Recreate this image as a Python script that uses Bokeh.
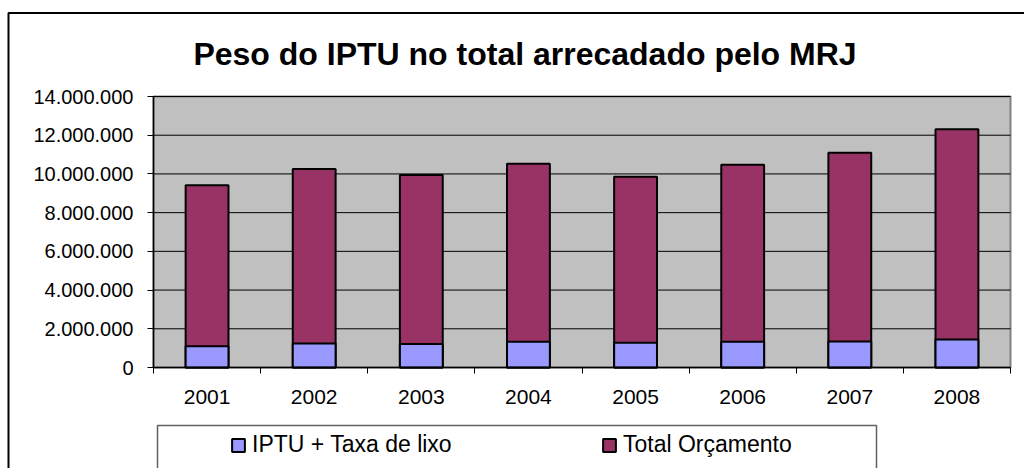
from bokeh.plotting import figure
from bokeh.models import (Range1d, FixedTicker, Legend, LegendItem, BoxAnnotation,
                          Label, LinearAxis, ColumnDataSource)
from bokeh.embed import file_html
from bokeh.resources import INLINE

# ---- data ----
years = ["2001", "2002", "2003", "2004", "2005", "2006", "2007", "2008"]
iptu = [1100000, 1240000, 1210000, 1330000, 1280000, 1330000, 1340000, 1450000]
total = [9420000, 10260000, 9950000, 10520000, 9850000, 10470000, 11100000, 12310000]
y_ticks = [0, 2000000, 4000000, 6000000, 8000000, 10000000, 12000000, 14000000]
y_tick_labels = ["0", "2.000.000", "4.000.000", "6.000.000", "8.000.000",
                 "10.000.000", "12.000.000", "14.000.000"]
series_names = ["IPTU + Taxa de lixo", "Total Orçamento"]
series_colors = ["#9999FF", "#993366"]
title_text = "Peso do IPTU no total arrecadado pelo MRJ"

FONT = "Liberation Sans"
W, H = 1024, 468
n = len(years)
YMAX = y_ticks[-1]

# page-pixel layout of the plot area
PA_L, PA_R, PA_T, PA_B = 153, 1010, 96, 367


def px2x(ax):
    return (ax - PA_L) / (PA_R - PA_L) * n


def px2y(ay):
    return (PA_B - ay) / (PA_B - PA_T) * YMAX


centers = [i + 0.5 for i in range(n)]
src = ColumnDataSource(dict(x=centers, iptu=iptu, total=total))

p = figure(frame_width=W, frame_height=H,
           x_range=Range1d(px2x(0), px2x(W)), y_range=Range1d(px2y(H), px2y(0)),
           output_backend="svg", toolbar_location=None,
           x_axis_location=None, y_axis_location=None,
           min_border=0, background_fill_color="white",
           border_fill_color="white")
p.outline_line_color = None
p.grid.visible = False

# plot area
p.add_layout(BoxAnnotation(left=0, right=n, bottom=0, top=YMAX, level="underlay",
                           fill_color="#C0C0C0", fill_alpha=1,
                           line_color="#808080", line_alpha=1, line_width=2))

# gridlines
p.segment(x0=[0] * len(y_ticks), x1=[n] * len(y_ticks), y0=y_ticks, y1=y_ticks,
          line_color="black", line_width=1)

r_total = p.vbar(x="x", top="total", bottom=0, width=0.4, source=src,
                 fill_color=series_colors[1], line_color="black", line_width=2)
r_iptu = p.vbar(x="x", top="iptu", bottom=0, width=0.4, source=src,
                fill_color=series_colors[0], line_color="black", line_width=2)

# x axis: labels at category centers, ticks at boundaries
xaxis = LinearAxis(fixed_location=0, bounds=(0, n))
xaxis.ticker = FixedTicker(ticks=centers, minor_ticks=list(range(n + 1)))
xaxis.major_label_overrides = {c: y for c, y in zip(centers, years)}
xaxis.major_tick_out = 0
xaxis.major_tick_in = 0
xaxis.minor_tick_out = 6
xaxis.minor_tick_in = 0
xaxis.minor_tick_line_color = "black"
xaxis.axis_line_color = "black"
xaxis.axis_line_width = 1.5
xaxis.major_label_text_font = FONT
xaxis.major_label_text_font_size = "21px"
xaxis.major_label_text_color = "black"
xaxis.major_label_standoff = 16
p.add_layout(xaxis, "below")

# y axis
yaxis = LinearAxis(fixed_location=0, bounds=(0, YMAX))
yaxis.ticker = FixedTicker(ticks=y_ticks, minor_ticks=[])
yaxis.major_label_overrides = {t: l for t, l in zip(y_ticks, y_tick_labels)}
yaxis.major_tick_out = 6
yaxis.major_tick_in = 0
yaxis.major_tick_line_color = "black"
yaxis.axis_line_color = "black"
yaxis.axis_line_width = 1.5
yaxis.major_label_text_font = FONT
yaxis.major_label_text_font_size = "20px"
yaxis.major_label_text_color = "black"
yaxis.major_label_standoff = 14
p.add_layout(yaxis, "left")

legend = Legend(items=[LegendItem(label=series_names[0], renderers=[r_iptu]),
                       LegendItem(label=series_names[1], renderers=[r_total])],
                orientation="horizontal", location=(225, 5), padding=5,
                spacing=144, glyph_width=16, glyph_height=16, label_standoff=6,
                label_width=205, margin=0,
                label_text_font=FONT, label_text_font_size="23px",
                label_text_color="black",
                border_line_alpha=0, background_fill_alpha=0)
p.add_layout(legend)

# legend frame
p.add_layout(BoxAnnotation(left=px2x(157), right=px2x(876), top=px2y(425),
                           bottom=px2y(560), fill_alpha=0,
                           line_color="#606060", line_alpha=1, line_width=1.5))
# outer chart border
p.add_layout(BoxAnnotation(left=px2x(8), right=px2x(1300), top=px2y(12.5),
                           bottom=px2y(700), fill_alpha=0,
                           line_color="black", line_alpha=1, line_width=2))

p.add_layout(Label(x=px2x(524.5), y=px2y(53), text=title_text,
                   text_align="center", text_baseline="alphabetic",
                   text_font=FONT, text_font_size="32px",
                   text_font_style="bold", text_color="black"))

open("out.html", "w").write(file_html(p, INLINE))
